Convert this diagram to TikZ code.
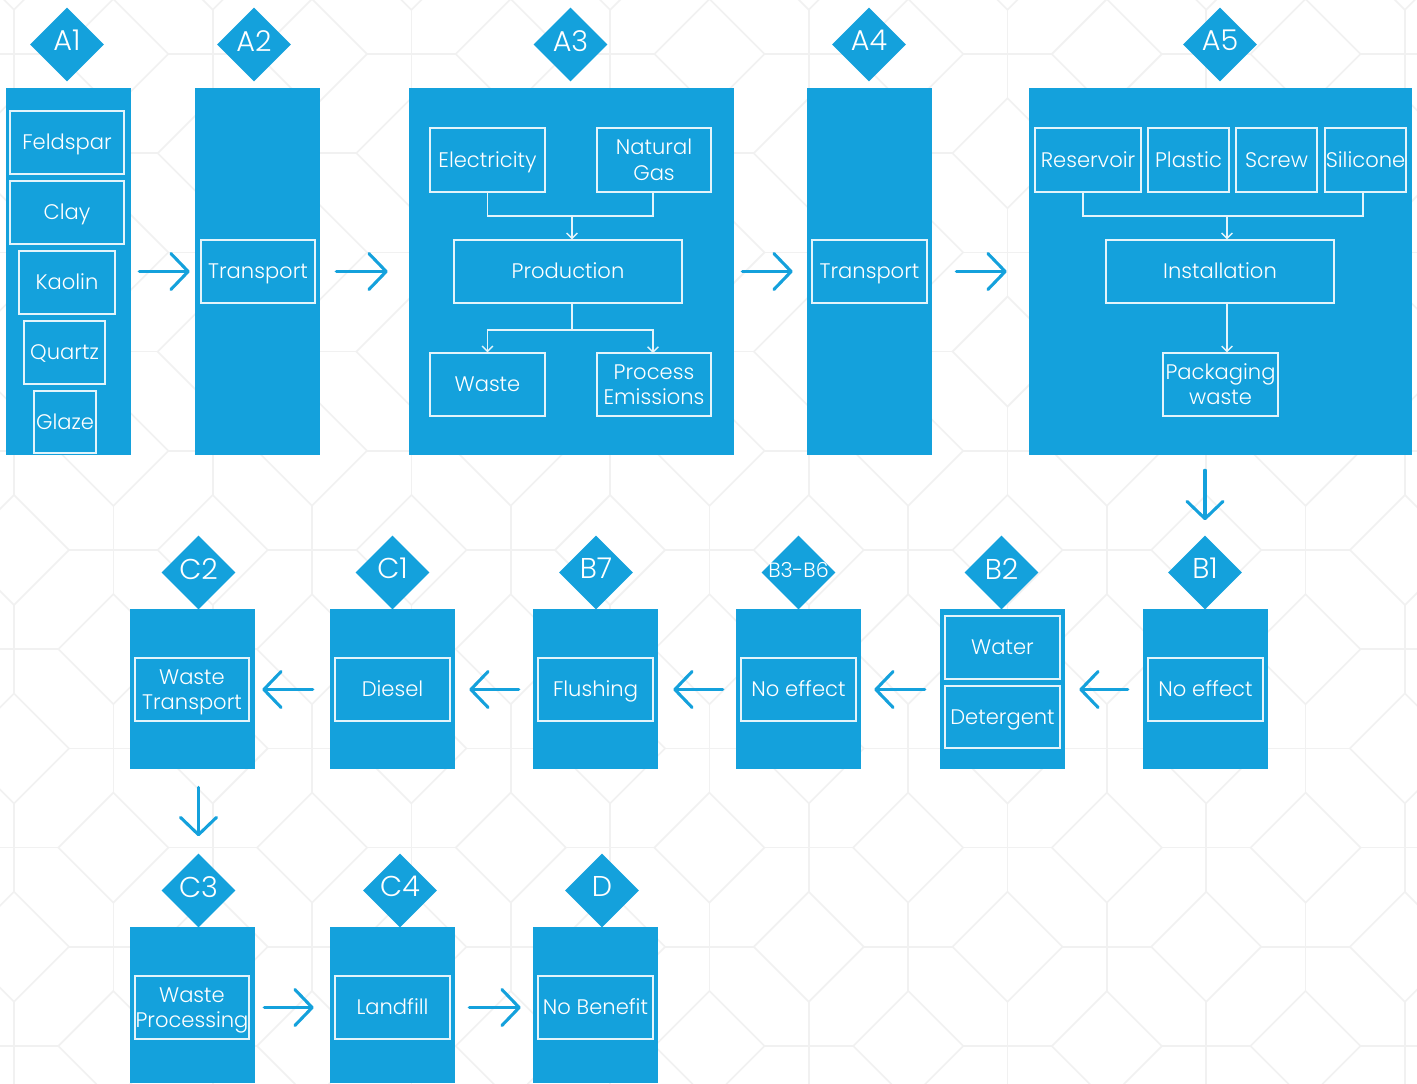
\documentclass[tikz,border=0pt]{standalone}
\usepackage{fontspec}
\setmainfont{Poppins}[UprightFont=* Light]
\usetikzlibrary{arrows.meta,shapes.geometric}
\definecolor{panelblue}{HTML}{14A1DC}
\definecolor{patgrey}{HTML}{F1F1F1}
\tikzset{
  x=0.75pt,y=-0.75pt,
  panel/.style={fill=panelblue,draw=none,inner sep=0pt},
  ibox/.style={draw=white!88!panelblue,line width=1pt,inner sep=0pt,align=center,text=white,font=\fontsize{15.8pt}{18.9pt}\selectfont},
  badge/.style={diamond,aspect=1,fill=panelblue,inner sep=0pt,minimum width=55.5pt,minimum height=55.5pt,text=white,font=\fontsize{21.5pt}{24pt}\selectfont},
  smallbadge/.style={badge,inner sep=-6pt,font=\fontsize{15.5pt}{17pt}\selectfont},
  flow/.style={draw=panelblue,line width=2.3pt,line cap=round,-{Straight Barb[length=13pt,width=27pt,round]}},
  inner/.style={draw=white!88!panelblue,line width=1pt},
  innerarr/.style={inner,-{Straight Barb[length=4pt,width=8pt]}},
  pattern line/.style={draw=patgrey,line width=1.2pt},
  gap/.style 2 args={shorten <={#1*0.75pt},shorten >={#2*0.75pt}}
}
\newcommand{\pnl}[5]{\node[panel,minimum width={0.75*(#4-#2)*1pt},minimum height={0.75*(#5-#3)*1pt}] (#1) at ({(#2+#4)/2},{(#3+#5)/2}) {};}
\newcommand{\bx}[6]{\node[ibox,minimum width={0.75*(#4-#2)*1pt},minimum height={0.75*(#5-#3)*1pt}] (#1) at ({(#2+#4)/2},{(#3+#5)/2}) {\rule{0pt}{15.7pt}#6\rule[-4.5pt]{0pt}{4.5pt}};}
\newcommand{\bd}[1]{\rule[-5.8pt]{0pt}{15.5pt}#1}
\newcommand{\bds}[1]{\rule[-3.8pt]{0pt}{13.5pt}#1}
\begin{document}
\begin{tikzpicture}
\useasboundingbox (0,0) rectangle (1417,1083);
\clip (0,0) rectangle (1417,1083);
\fill[white] (0,0) rectangle (1417,1083);
% background lattice
\foreach \k in {-1,...,14}{
  \foreach \j in {-1,...,11}{
    \pgfmathsetmacro{\cx}{14+99.35*\k}
    \pgfmathsetmacro{\cy}{54+99.2*\j}
    \pgfmathtruncatemacro{\parity}{mod(\k+\j+4,2)}
    \ifnum\parity=1
      \draw[pattern line] (\cx-55,\cy) -- (\cx,\cy-55) -- (\cx+55,\cy) -- (\cx,\cy+55) -- cycle;
    \else
      \draw[pattern line] (\cx-44.5,\cy) -- (\cx+44.5,\cy) (\cx,\cy-44.5) -- (\cx,\cy+44.5);
    \fi
  }
}
% panels
\pnl{PA1}{6}{88}{131}{455}
\pnl{PA2}{195}{88}{320}{455}
\pnl{PA3}{409}{88}{734}{455}
\pnl{PA4}{807}{88}{932}{455}
\pnl{PA5}{1029}{88}{1412}{455}
\pnl{PB1}{1143}{609}{1268}{769}
\pnl{PB2}{940}{609}{1065}{769}
\pnl{PB3}{736}{609}{861}{769}
\pnl{PB7}{533}{609}{658}{769}
\pnl{PC1}{330}{609}{455}{769}
\pnl{PC2}{130}{609}{255}{769}
\pnl{PC3}{130}{927}{255}{1083}
\pnl{PC4}{330}{927}{455}{1083}
\pnl{PD}{533}{927}{658}{1083}
% badges
\node[badge] (A1) at (67,44.5) {\bd{A1}};
\node[badge] (A2) at (254,44.5) {\bd{A2}};
\node[badge] (A3) at (570.5,44.5) {\bd{A3}};
\node[badge] (A4) at (869,44.5) {\bd{A4}};
\node[badge] (A5) at (1220,44.5) {\bd{A5}};
\node[badge] (B1) at (1205,572.5) {\bd{B1}};
\node[badge] (B2) at (1001.5,572.5) {\bd{B2}};
\node[smallbadge] (B3) at (798.5,572.5) {\bds{B3-B6}};
\node[badge] (B7) at (596,572.5) {\bd{B7}};
\node[badge] (C1) at (392.5,572.5) {\bd{C1}};
\node[badge] (C2) at (198.5,572.5) {\bd{C2}};
\node[badge] (C3) at (198.5,890.5) {\bd{C3}};
\node[badge] (C4) at (400,890.5) {\bd{C4}};
\node[badge] (D) at (602,890.5) {\bd{D}};
% inner boxes
\bx{feld}{10}{111}{124}{174}{Feldspar}
\bx{clay}{10}{181}{124}{244}{Clay}
\bx{kaolin}{19}{251}{115}{314}{Kaolin}
\bx{quartz}{24}{321}{105}{384}{Quartz}
\bx{glaze}{34}{391}{96}{453}{Glaze}
\bx{tr1}{201}{240}{315}{303}{Transport}
\bx{elec}{430}{128}{545}{192}{Electricity}
\bx{gas}{597}{128}{711}{192}{Natural\\Gas}
\bx{prod}{454}{240}{682}{303}{Production}
\bx{waste}{430}{353}{545}{416}{Waste}
\bx{emis}{597}{353}{711}{416}{Process\\Emissions}
\bx{tr2}{812}{240}{927}{303}{Transport}
\bx{res}{1035}{128}{1141}{192}{Reservoir}
\bx{plastic}{1148}{128}{1229}{192}{Plastic}
\bx{screw}{1236}{128}{1317}{192}{Screw}
\bx{sil}{1325}{128}{1406}{192}{Silicone}
\bx{inst}{1106}{240}{1334}{303}{Installation}
\bx{pack}{1163}{353}{1278}{416}{Packaging\\waste}
\bx{ne1}{1148}{658}{1263}{721}{No effect}
\bx{water}{945}{616}{1060}{679}{Water}
\bx{det}{945}{686}{1060}{748}{Detergent}
\bx{ne2}{741}{658}{856}{721}{No effect}
\bx{flush}{538}{658}{653}{721}{Flushing}
\bx{diesel}{335}{658}{450}{721}{Diesel}
\bx{wtr}{135}{658}{249}{721}{Waste\\Transport}
\bx{wpr}{135}{976}{249}{1039}{Waste\\Processing}
\bx{land}{335}{976}{450}{1039}{Landfill}
\bx{nob}{538}{976}{653}{1039}{No Benefit}
% inner connectors
\coordinate (jA) at (572,216);
\coordinate (jB) at (572,330);
\coordinate (jC) at (1227,216);
\coordinate (resOut) at (1083,192);
\coordinate (silOut) at (1363,192);
\coordinate (gasOut) at (653,192);
\coordinate (emisIn) at (653,353);
\draw[inner] (elec.south) |- (jA) -| (gasOut);
\draw[innerarr] (jA) -- (jA |- prod.north);
\draw[inner] (jA |- prod.south) -- (jB);
\draw[innerarr] (jB) -| (waste.north);
\draw[innerarr] (jB) -| (emisIn);
\draw[inner] (resOut) |- (jC) -| (silOut);
\draw[innerarr] (jC) -- (jC |- inst.north);
\draw[innerarr] (jC |- inst.south) -- (jC |- pack.north);
% flow arrows
\draw[flow,gap={8}{5}] (PA1.east |- tr1.center) -- (PA2.west |- tr1.center);
\draw[flow,gap={16}{21}] (PA2.east |- tr1.center) -- (PA3.west |- tr1.center);
\draw[flow,gap={8}{14}] (PA3.east |- tr1.center) -- (PA4.west |- tr1.center);
\draw[flow,gap={24}{22}] (PA4.east |- tr1.center) -- (PA5.west |- tr1.center);
\draw[flow,gap={15}{15}] (PA5.south -| B1) -- (B1.north);
\draw[flow,gap={15}{14}] (PB1.west |- ne1.center) -- (PB2.east |- ne1.center);
\draw[flow,gap={15}{13}] (PB2.west |- ne1.center) -- (PB3.east |- ne1.center);
\draw[flow,gap={13}{15}] (PB3.west |- ne1.center) -- (PB7.east |- ne1.center);
\draw[flow,gap={14}{14}] (PB7.west |- ne1.center) -- (PC1.east |- ne1.center);
\draw[flow,gap={17}{7}] (PC1.west |- ne1.center) -- (PC2.east |- ne1.center);
\draw[flow,gap={18}{17}] (PC2.south -| C3) -- (C3.north);
\draw[flow,gap={9}{16}] (PC3.east |- wpr.center) -- (PC4.west |- wpr.center);
\draw[flow,gap={14}{12}] (PC4.east |- wpr.center) -- (PD.west |- wpr.center);
\end{tikzpicture}
\end{document}
